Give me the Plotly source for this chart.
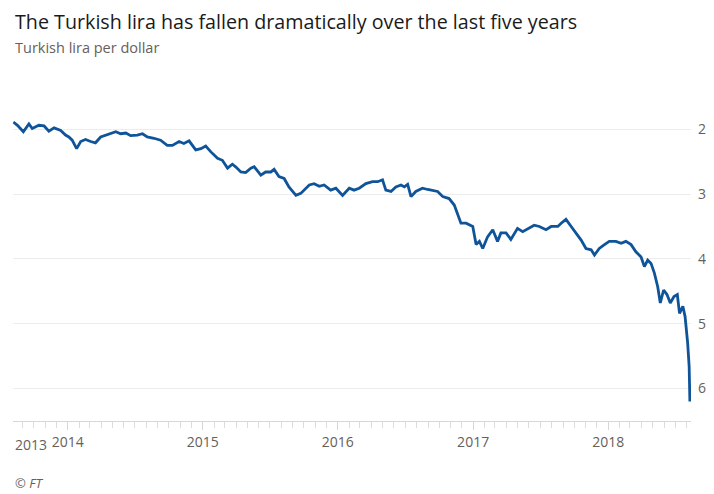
import plotly.graph_objects as go

dates = [
    "2013-08-07", "2013-08-18", "2013-09-03", "2013-09-18", "2013-09-27", "2013-10-15",
    "2013-10-29", "2013-11-11", "2013-11-25", "2013-12-13", "2013-12-26", "2014-01-04",
    "2014-01-13", "2014-01-25", "2014-02-05", "2014-02-18", "2014-03-04", "2014-03-17",
    "2014-03-31", "2014-04-18", "2014-05-11", "2014-05-24", "2014-06-07", "2014-06-20",
    "2014-07-08", "2014-07-22", "2014-08-04", "2014-08-22", "2014-09-09", "2014-09-27",
    "2014-10-11", "2014-10-29", "2014-11-11", "2014-11-25", "2014-12-13", "2014-12-27",
    "2015-01-09", "2015-01-23", "2015-02-10", "2015-02-23", "2015-03-09", "2015-03-22",
    "2015-03-31", "2015-04-14", "2015-04-27", "2015-05-11", "2015-05-20", "2015-06-07",
    "2015-06-20", "2015-07-04", "2015-07-13", "2015-07-26", "2015-08-09", "2015-08-22",
    "2015-09-10", "2015-09-23", "2015-10-02", "2015-10-16", "2015-10-29", "2015-11-12",
    "2015-11-25", "2015-12-13", "2015-12-27", "2016-01-14", "2016-02-01", "2016-02-14",
    "2016-02-28", "2016-03-17", "2016-04-04", "2016-04-18", "2016-05-01", "2016-05-10",
    "2016-05-24", "2016-06-06", "2016-06-20", "2016-06-29", "2016-07-08", "2016-07-17",
    "2016-07-30", "2016-08-17", "2016-08-31", "2016-09-13", "2016-09-27", "2016-10-11",
    "2016-10-28", "2016-11-11", "2016-11-20", "2016-11-29", "2016-12-13", "2016-12-31",
    "2017-01-09", "2017-01-18", "2017-01-27", "2017-02-09", "2017-02-23", "2017-03-08",
    "2017-03-17", "2017-03-31", "2017-04-13", "2017-05-01", "2017-05-15", "2017-05-29",
    "2017-06-15", "2017-06-29", "2017-07-17", "2017-07-31", "2017-08-18", "2017-08-27",
    "2017-09-09", "2017-09-23", "2017-10-06", "2017-10-20", "2017-11-02", "2017-11-16",
    "2017-11-25", "2017-12-08", "2017-12-22", "2018-01-04", "2018-01-22", "2018-02-05",
    "2018-02-18", "2018-03-04", "2018-03-17", "2018-03-31", "2018-04-09", "2018-04-18",
    "2018-04-27", "2018-05-06", "2018-05-15", "2018-05-22", "2018-05-31", "2018-06-09",
    "2018-06-18", "2018-06-28", "2018-07-07", "2018-07-13", "2018-07-22", "2018-07-28",
    "2018-08-04", "2018-08-08", "2018-08-10",
]

lira_per_dollar = [
    1.89, 1.94, 2.04, 1.92, 1.99, 1.94,
    1.95, 2.03, 1.98, 2.02, 2.09, 2.12,
    2.17, 2.30, 2.19, 2.16, 2.19, 2.21,
    2.12, 2.09, 2.04, 2.07, 2.06, 2.10,
    2.09, 2.07, 2.12, 2.14, 2.17, 2.25,
    2.25, 2.19, 2.22, 2.18, 2.32, 2.30,
    2.26, 2.35, 2.45, 2.48, 2.60, 2.54,
    2.58, 2.66, 2.67, 2.60, 2.58, 2.71,
    2.66, 2.66, 2.62, 2.73, 2.76, 2.89,
    3.02, 2.99, 2.94, 2.86, 2.84, 2.88,
    2.86, 2.94, 2.91, 3.02, 2.91, 2.94,
    2.91, 2.84, 2.81, 2.81, 2.78, 2.94,
    2.96, 2.89, 2.86, 2.89, 2.85, 3.04,
    2.96, 2.91, 2.93, 2.94, 2.96, 3.04,
    3.07, 3.17, 3.30, 3.45, 3.45, 3.50,
    3.78, 3.73, 3.84, 3.66, 3.55, 3.73,
    3.60, 3.60, 3.70, 3.53, 3.58, 3.53,
    3.48, 3.50, 3.55, 3.50, 3.50, 3.45,
    3.39, 3.50, 3.60, 3.71, 3.84, 3.86,
    3.94, 3.84, 3.78, 3.73, 3.73, 3.76,
    3.73, 3.78, 3.89, 3.97, 4.12, 4.02,
    4.07, 4.22, 4.43, 4.68, 4.48, 4.55,
    4.68, 4.58, 4.55, 4.84, 4.73, 4.89,
    5.30, 5.66, 6.20,
]

year_ticks = ["2014-01-01", "2015-01-01", "2016-01-01", "2017-01-01", "2018-01-01"]
year_labels = ["2014", "2015", "2016", "2017", "2018"]
y_ticks = [2, 3, 4, 5, 6]

title = "The Turkish lira has fallen dramatically over the last five years"
subtitle = "Turkish lira per dollar"
source = "© FT"

FONT = "Open Sans"
GREY = "#66605c"

fig = go.Figure()
fig.add_trace(go.Scatter(
    x=dates, y=lira_per_dollar, mode="lines",
    line=dict(color="#0f5499", width=2.8),
    hoverinfo="skip", showlegend=False,
))

# the page body adds an 8px offset, so the figure is 8px smaller and margins shifted
fig.update_layout(
    width=706, height=486,
    margin=dict(l=5, r=23, t=92, b=73),
    paper_bgcolor="white", plot_bgcolor="white",
    font=dict(family=FONT, color=GREY, size=13),
    xaxis=dict(
        range=["2013-08-06", "2018-08-13"],
        tickvals=year_ticks, ticktext=year_labels,
        showgrid=False, zeroline=False,
        showline=True, linecolor="#d6d6d6", linewidth=1,
        ticks="outside", ticklen=8, tickcolor="#d6d6d6", tickwidth=1,
        tickfont=dict(size=14, color=GREY, family=FONT),
        minor=dict(dtick="M1", tick0="2013-08-01", ticks="outside",
                   ticklen=6, tickcolor="#dcdcdc", tickwidth=1, showgrid=False),
    ),
    yaxis=dict(
        range=[6.5, 1.55], side="right",
        tickvals=y_ticks, ticktext=[str(v) for v in y_ticks],
        showgrid=True, gridcolor="#ececec", gridwidth=1,
        zeroline=False, showline=False, ticks="",
        ticklabelstandoff=6,
        tickfont=dict(size=14, color=GREY, family=FONT),
    ),
    annotations=[
        dict(text=title, xref="paper", yref="paper", x=0, y=1.246,
             xanchor="left", yanchor="middle", showarrow=False,
             font=dict(size=19.7, color="#1a1a1a", family=FONT)),
        dict(text=subtitle, xref="paper", yref="paper", x=0, y=1.163,
             xanchor="left", yanchor="middle", showarrow=False,
             font=dict(size=14.5, color=GREY, family=FONT)),
        dict(text="2013", xref="paper", yref="paper", x=0, y=-0.072,
             xanchor="left", yanchor="middle", showarrow=False,
             font=dict(size=14, color=GREY, family=FONT)),
        dict(text=source, xref="paper", yref="paper", x=0, y=-0.193,
             xanchor="left", yanchor="middle", showarrow=False,
             font=dict(size=13, color=GREY, family=FONT, style="italic")),
    ],
)

fig.write_html("out.html")
